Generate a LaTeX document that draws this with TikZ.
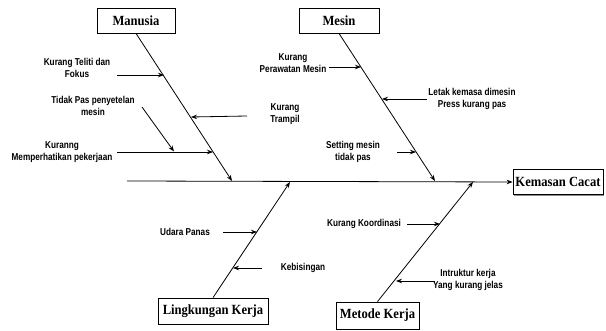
\documentclass[tikz,border=0pt]{standalone}
\usepackage{fontspec}
\usetikzlibrary{arrows.meta,shadows}
\newfontfamily\labfont[FakeStretch=0.82]{Liberation Sans}
\newfontfamily\boxfont[FakeStretch=0.9]{Liberation Serif}
\begin{document}
\begin{tikzpicture}[x=1pt,y=-1pt,
  catbox/.style={draw=black, line width=0.8pt, fill=white, inner sep=0pt,
    font=\boxfont\bfseries\fontsize{14}{16}\selectfont,
    drop shadow={shadow xshift=1.3pt, shadow yshift=-1.3pt, fill=black!45, opacity=1}},
  lab/.style={align=center, inner sep=0pt, font=\labfont\bfseries\fontsize{10}{12.5}\selectfont},
  bone/.style={line width=0.8pt, -{Stealth[length=6pt,width=4.5pt]}},
  sub/.style={line width=0.8pt, -{Stealth[length=6pt,width=4.5pt]}}]
\useasboundingbox (0,0) rectangle (606,331);
% category boxes
\node[catbox, minimum width=78pt, minimum height=25pt] (man) at (136,20.5) {Manusia};
\node[catbox, minimum width=80pt, minimum height=25pt] (mes) at (339,20.5) {Mesin};
\node[catbox, minimum width=90pt, minimum height=25pt] (kem) at (558,182) {Kemasan Cacat};
\node[catbox, minimum width=110pt, minimum height=26pt] (lin) at (213,311) {Lingkungan Kerja};
\node[catbox, minimum width=83pt, minimum height=27pt] (met) at (377.5,315.5) {Metode Kerja};
% spine
\coordinate (sp0) at (127,181);
\draw[bone] (sp0) -- (kem.west);
% bone endpoints
\coordinate (manE) at (232,181);
\coordinate (mesE) at (435,181);
\coordinate (linE) at (290,182);
\coordinate (metE) at (473,182);
\draw[bone] (man.south) -- (manE);
\draw[bone] (mes.south) -- (mesE);
\draw[bone] (lin.north) -- (linE);
\draw[bone] (met.north) -- (metE);
% labels
\node[lab] (l1) at (77,68) {Kurang Teliti dan\\Fokus};
\node[lab] (l2) at (93,106) {Tidak Pas penyetelan\\mesin};
\node[lab] (l3) at (62,152) {Kuranng\\Memperhatikan pekerjaan};
\node[lab] (l4) at (285,114) {Kurang\\Trampil};
\node[lab] (l5) at (293,63) {Kurang\\Perawatan Mesin};
\node[lab] (l6) at (472,99) {Letak kemasa dimesin\\Press kurang pas};
\node[lab] (l7) at (353,152) {Setting mesin\\tidak pas};
\node[lab] (l8) at (185,232) {Udara Panas};
\node[lab] (l9) at (303,268) {Kebisingan};
\node[lab] (l10) at (364,224) {Kurang Koordinasi};
\node[lab] (l11) at (468,280) {Intruktur kerja\\Yang kurang jelas};
% sub-cause arrows
\coordinate (a1s) at (117,75);  \coordinate (a1e) at (164,75);
\coordinate (a2s) at (142,107); \coordinate (a2e) at (174,151.5);
\coordinate (a3s) at (117,152); \coordinate (a3e) at (213,152);
\coordinate (a4s) at (247,116); \coordinate (a4e) at (191,117);
\coordinate (a5s) at (329,67);  \coordinate (a5e) at (361,67);
\coordinate (a6s) at (427,99);  \coordinate (a6e) at (382,99);
\coordinate (a7s) at (397,152); \coordinate (a7e) at (416,152);
\coordinate (a8s) at (223,232); \coordinate (a8e) at (257,232);
\coordinate (a9s) at (262,268); \coordinate (a9e) at (233,268);
\coordinate (a10s) at (407,224); \coordinate (a10e) at (440,224);
\coordinate (a11s) at (435,281); \coordinate (a11e) at (396,281);
\foreach \i in {1,...,11} \draw[sub] (a\i s) -- (a\i e);
\end{tikzpicture}
\end{document}
